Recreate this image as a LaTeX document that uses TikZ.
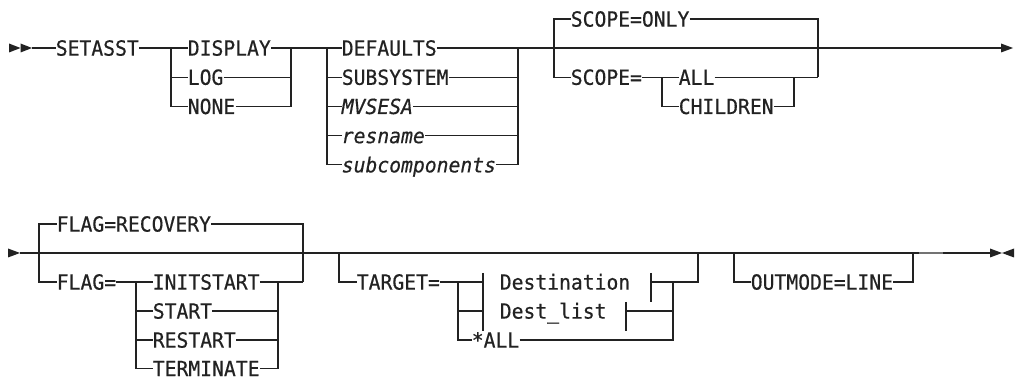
\documentclass[tikz,border=0pt]{standalone}
\usepackage{fontspec}
\newfontfamily\rrfont{DejaVu Sans Mono}[FakeStretch=0.947,FakeBold=0.5]
\definecolor{ink}{HTML}{222222}
\begin{document}
\begin{tikzpicture}[x=1pt,y=-1pt,
  rl/.style={draw=ink, line width=1.1pt},
  kw/.style={font=\rrfont\fontsize{20.8}{21}\selectfont, text=ink, inner xsep=0.3pt, inner ysep=0pt, outer sep=0pt, text height=15.2pt, text depth=0pt, anchor=west},
  var/.style={kw, font=\rrfont\itshape\fontsize{20.8}{21}\selectfont},
  gapseg/.style={draw=black!55, line width=1.9pt}
]
\useasboundingbox (0,0) rectangle (1015,379);

% ---------------- row 1 ----------------
\fill[ink] (9,43.5) -- (20.5,48) -- (9,52.5) -- cycle;
\fill[ink] (20.5,43.5) -- (32,48) -- (20.5,52.5) -- cycle;
\coordinate (st) at (32,48);
\node[kw] (setasst) at (55.5,48) {SETASST};
\coordinate (a1) at (171,48);
\coordinate (a1r) at (291,48);
\node[kw] (display) at (187.5,48) {DISPLAY};
\node[kw] (log) at (187.5,77.2) {LOG};
\node[kw] (none) at (187.5,106.4) {NONE};
\coordinate (b1) at (327,48);
\coordinate (b1r) at (518,48);
\node[kw] (defaults) at (341.5,48) {DEFAULTS};
\node[kw] (subsystem) at (341.5,77.2) {SUBSYSTEM};
\node[var] (mvsesa) at (341.5,106.4) {MVSESA};
\node[var] (resname) at (341.5,135.6) {resname};
\node[var] (subcomp) at (341.5,164.8) {subcomponents};
\coordinate (c1) at (554,48);
\node[kw] (scopeonly) at (570.5,19) {SCOPE=ONLY};
\node[kw] (scopeeq) at (570.5,77.2) {SCOPE=};
\coordinate (c2r) at (818,77.2);
\coordinate (d1) at (662,77.2);
\node[kw] (all) at (678.5,77.2) {ALL};
\node[kw] (children) at (678.5,106.4) {CHILDREN};
\coordinate (d1r) at (794,77.2);
\coordinate (e1) at (1001,48);
\fill[ink] (1001,43.5) -- (1013,48) -- (1001,52.5) -- cycle;

\draw[rl] (st) -- (setasst.west);
\draw[rl] (setasst.east) -- (display.west);
\draw[rl] (a1) |- (log.west);
\draw[rl] (a1) |- (none.west);
\draw[rl] (display.east) -- (defaults.west);
\draw[rl] (log.east) -| (a1r);
\draw[rl] (none.east) -| (a1r);
\draw[rl] (b1) |- (subsystem.west);
\draw[rl] (b1) |- (mvsesa.west);
\draw[rl] (b1) |- (resname.west);
\draw[rl] (b1) |- (subcomp.west);
\draw[rl] (defaults.east) -- (e1);
\draw[rl] (subsystem.east) -| (b1r);
\draw[rl] (mvsesa.east) -| (b1r);
\draw[rl] (resname.east) -| (b1r);
\draw[rl] (subcomp.east) -| (b1r);
\draw[rl] (c1) |- (scopeonly.west);
\draw[rl] (c1) |- (scopeeq.west);
\draw[rl] (scopeonly.east) -| (c2r);
\draw[rl] (scopeeq.east) -- (all.west);
\draw[rl] (all.east) -- (c2r);
\draw[rl] (d1) |- (children.west);
\draw[rl] (children.east) -| (d1r);

% ---------------- row 2 ----------------
\fill[ink] (8,248.5) -- (20,253) -- (8,257.5) -- cycle;
\coordinate (f0) at (20,253);
\coordinate (g1) at (39,253);
\node[kw] (flagrec) at (56.5,224) {FLAG=RECOVERY};
\node[kw] (flageq) at (56.5,282) {FLAG=};
\coordinate (g2r) at (303,282);
\coordinate (h2) at (136,282);
\node[kw] (initstart) at (152.5,282) {INITSTART};
\node[kw] (start) at (152.5,311) {START};
\node[kw] (restart) at (152.5,340) {RESTART};
\node[kw] (terminate) at (152.5,368.5) {TERMINATE};
\coordinate (h2r) at (278,282);
\coordinate (i1) at (339,253);
\node[kw] (target) at (356.5,282) {TARGET=};
\coordinate (j2) at (458,282);
\coordinate (tl1) at (483,282);
\node[kw] (dest) at (499.5,282) {Destination};
\coordinate (tr1) at (651,282);
\coordinate (k2) at (698,282);
\coordinate (k1) at (698,253);
\coordinate (tl2) at (483,311);
\node[kw] (destlist) at (499.5,311) {Dest\_list};
\coordinate (tr2) at (626,311);
\coordinate (l3) at (673,311);
\node[kw] (starall) at (471.5,340) {*ALL};
\coordinate (l2) at (673,282);
\coordinate (m1) at (734,253);
\node[kw] (outmode) at (750.5,282) {OUTMODE=LINE};
\coordinate (m1r) at (913,253);
\coordinate (gs1) at (919,253);
\coordinate (gs2) at (943,253);
\coordinate (n1) at (990,253);
\fill[ink] (990,248.5) -- (1002,253) -- (990,257.5) -- cycle;
\fill[ink] (1014,248.5) -- (1002,253) -- (1014,257.5) -- cycle;

\draw[rl] (f0) -- (n1);
\draw[gapseg] (gs1) -- (gs2);
\draw[rl] (g1) |- (flagrec.west);
\draw[rl] (g1) |- (flageq.west);
\draw[rl] (flagrec.east) -| (g2r);
\draw[rl] (flageq.east) -- (initstart.west);
\draw[rl] (h2) |- (start.west);
\draw[rl] (h2) |- (restart.west);
\draw[rl] (h2) |- (terminate.west);
\draw[rl] (initstart.east) -- (g2r);
\draw[rl] (start.east) -| (h2r);
\draw[rl] (restart.east) -| (h2r);
\draw[rl] (terminate.east) -| (h2r);
\draw[rl] (i1) |- (target.west);
\draw[rl] (target.east) -- (tl1);
\draw[rl] ([yshift=9pt]tl1) -- ([yshift=-20pt]tl1);
\draw[rl] ([yshift=9pt]tr1) -- ([yshift=-20pt]tr1);
\draw[rl] (tr1) -- (k2) -- (k1);
\draw[rl] (j2) |- (tl2);
\draw[rl] (j2) |- (starall.west);
\draw[rl] ([yshift=9pt]tl2) -- ([yshift=-20pt]tl2);
\draw[rl] ([yshift=9pt]tr2) -- ([yshift=-20pt]tr2);
\draw[rl] (tr2) -- (l3);
\draw[rl] (starall.east) -| (l2);
\draw[rl] (m1) |- (outmode.west);
\draw[rl] (outmode.east) -| (m1r);
\end{tikzpicture}
\end{document}
